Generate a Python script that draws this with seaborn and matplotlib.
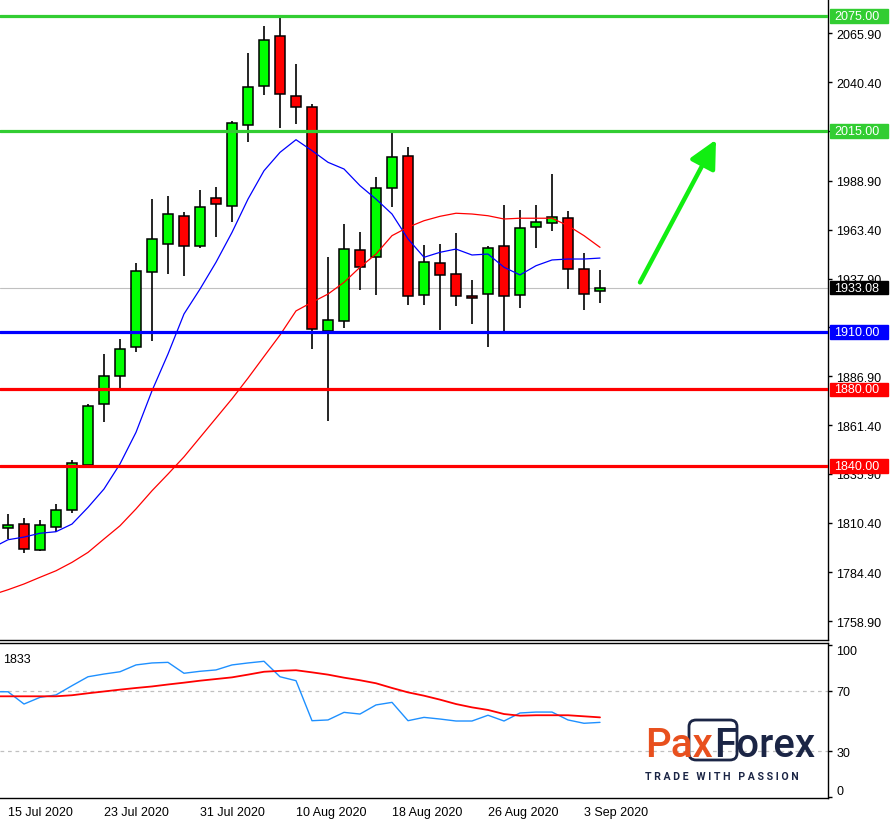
import matplotlib
matplotlib.use("Agg")
import matplotlib.pyplot as plt
import matplotlib.transforms as mtransforms
from matplotlib.patches import Rectangle, FancyBboxPatch
import seaborn as sns
import numpy as np
import pandas as pd

# daily XAUUSD candles, 15 Jul 2020 .. 4 Sep 2020
opens = [1807.8, 1809.6, 1796.0, 1808.3, 1816.9, 1840.7, 1872.2, 1886.9, 1902.0, 1941.2,
         1955.8, 1970.4, 1955.1, 1979.8, 1975.9, 2017.9, 2038.3, 2064.4, 2033.1, 2027.3,
         1910.5, 1915.6, 1952.7, 1949.0, 1985.0, 2001.7, 1929.2, 1945.9, 1940.1, 1928.8,
         1929.7, 1954.7, 1929.2, 1964.7, 1966.7, 1969.4, 1942.7, 1931.2]
highs = [1815.0, 1812.9, 1811.8, 1820.2, 1843.0, 1872.2, 1898.5, 1906.3, 1946.0, 1979.4,
         1981.0, 1972.5, 1984.1, 1985.7, 2020.0, 2055.7, 2069.8, 2074.6, 2049.9, 2028.9,
         1949.2, 1966.2, 1962.2, 1990.8, 2014.6, 2006.6, 1955.4, 1956.0, 1961.7, 1937.1,
         1955.1, 1976.3, 1973.7, 1976.3, 1992.5, 1973.0, 1951.2, 1942.4]
lows = [1801.9, 1794.7, 1795.5, 1805.7, 1815.6, 1840.0, 1863.1, 1880.7, 1899.4, 1905.4,
        1940.4, 1939.4, 1954.0, 1959.8, 1967.6, 2009.4, 2033.9, 2016.4, 2018.8, 1901.0,
        1863.7, 1912.2, 1932.1, 1929.5, 1975.4, 1924.2, 1924.2, 1911.2, 1923.7, 1914.3,
        1902.3, 1910.5, 1922.7, 1954.0, 1962.9, 1932.6, 1921.6, 1925.3]
closes = [1809.4, 1796.5, 1809.0, 1816.9, 1841.4, 1871.2, 1886.9, 1901.0, 1941.7, 1958.4,
          1971.5, 1954.7, 1975.1, 1976.7, 2019.0, 2037.8, 2062.3, 2034.1, 2027.3, 1911.4,
          1916.1, 1953.2, 1943.9, 1985.0, 2001.2, 1928.6, 1946.4, 1939.6, 1928.6, 1927.6,
          1953.9, 1928.6, 1964.1, 1967.3, 1969.9, 1942.7, 1929.7, 1933.08]

# moving averages, first value belongs to the bar before the window
ma_fast = [1797.2, 1801.5, 1802.9, 1804.9, 1805.7, 1809.7, 1818.4, 1828.0, 1841.1, 1857.6,
           1879.3, 1898.5, 1919.4, 1932.4, 1946.4, 1962.0, 1979.4, 1994.2, 2003.8, 2010.4,
           2004.7, 1998.6, 1995.1, 1986.4, 1979.4, 1971.6, 1958.6, 1949.0, 1951.6, 1953.3,
           1950.2, 1950.7, 1943.8, 1939.8, 1944.6, 1947.6, 1948.1, 1948.1, 1948.6]
ma_slow = [1772.7, 1775.4, 1778.4, 1781.9, 1785.3, 1789.7, 1794.9, 1801.9, 1808.8, 1817.6,
           1827.1, 1835.8, 1844.8, 1854.9, 1865.0, 1875.1, 1885.9, 1897.2, 1908.4, 1921.0,
           1925.5, 1929.8, 1935.9, 1943.8, 1950.7, 1960.3, 1964.7, 1968.1, 1970.4, 1972.0,
           1971.6, 1970.7, 1969.0, 1969.4, 1969.4, 1969.4, 1965.5, 1960.3, 1954.2]

# oscillator (lower window), same alignment as the moving averages
osc_main = [69.3, 69.3, 61.2, 65.6, 67.2, 73.3, 79.2, 81.0, 82.5, 87.0,
            88.3, 88.7, 81.5, 82.8, 83.7, 87.0, 88.3, 89.4, 79.2, 76.6,
            50.2, 50.7, 55.7, 54.6, 60.6, 62.3, 50.2, 52.4, 51.3, 50.0,
            50.0, 53.8, 50.0, 55.3, 55.9, 55.9, 50.7, 48.5, 49.1]
osc_signal = [66.3, 66.3, 66.3, 66.3, 66.3, 67.0, 68.3, 69.5, 70.7, 71.8,
              72.8, 74.1, 75.3, 76.6, 77.7, 78.8, 80.6, 82.5, 83.1, 83.5,
              82.1, 80.6, 78.6, 76.9, 74.9, 71.8, 68.9, 66.7, 64.1, 61.2,
              59.0, 57.3, 54.6, 53.5, 53.8, 53.8, 53.8, 53.1, 52.4]

date_labels = ["15 Jul 2020", "23 Jul 2020", "31 Jul 2020", "10 Aug 2020",
               "18 Aug 2020", "26 Aug 2020", "3 Sep 2020"]
date_label_bars = [0, 6, 12, 18, 24, 30, 36]
price_ticks = [2065.90, 2040.40, 2014.90, 1988.90, 1963.40, 1937.90, 1912.40,
               1886.90, 1861.40, 1835.90, 1810.40, 1784.40, 1758.90]
covered_ticks = [2014.90, 1912.40]   # hidden behind the price tags
levels = [2075.00, 2015.00, 1910.00, 1880.00, 1840.00]
level_colors = ["#32cd32", "#32cd32", "#0000ff", "#ff0000", "#ff0000"]
last_price = 1933.08
osc_ticks = [100, 70, 30, 0]
osc_levels = [70, 30]
arrow_from = (39.5, 1935.9)
arrow_to = (44.25, 2010.4)

sns.set_style("white")
plt.rcParams["font.family"] = ["Liberation Sans", "DejaVu Sans"]

df = pd.DataFrame({"open": opens, "high": highs, "low": lows, "close": closes})
df["bar"] = np.arange(len(df))
ma_bars = np.arange(-1, len(df))

W, H = 893, 820
fig = plt.figure(figsize=(W / 100, H / 100), dpi=100)
ax = fig.add_axes([0, 1 - 641 / H, 828 / W, 641 / H])
ax2 = fig.add_axes([0, 1 - 799 / H, 828 / W, (799 - 643.5) / H])

xlim = (-0.5, 51.25)
ylim = (1749.15, 2083.88)

# ---- main price window ----
ax.axhline(last_price, color="#c0c0c0", lw=0.8, zorder=1)
up = df["close"] >= df["open"]
ax.vlines(df["bar"], df["low"], df["high"], color="black", lw=1.2, zorder=2)
ax.bar(df["bar"], (df["close"] - df["open"]).abs().clip(lower=0.8),
       bottom=np.minimum(df["open"], df["close"]), width=0.58,
       color=np.where(up, "#00ff00", "#ff0000"), edgecolor="black",
       linewidth=1.1, zorder=3)
sns.lineplot(x=ma_bars, y=ma_fast, ax=ax, color="#0000ff", lw=0.9, zorder=4)
sns.lineplot(x=ma_bars, y=ma_slow, ax=ax, color="#ff0000", lw=0.9, zorder=4)
for lv, c in zip(levels, level_colors):
    ax.axhline(lv, color=c, lw=2.3, zorder=5)

ax.annotate("", xy=arrow_to, xytext=arrow_from,
            arrowprops=dict(arrowstyle="-|>,head_length=0.7,head_width=0.35",
                            color="#11ee11", lw=3.2, mutation_scale=24,
                            shrinkA=0, shrinkB=0, capstyle="round"), zorder=6)

ax.set_xlim(*xlim)
ax.set_ylim(*ylim)
ax.set_xticks([])
ax.yaxis.tick_right()
ax.set_yticks(price_ticks, ["" if t in covered_ticks else f"{t:.2f}" for t in price_ticks])
ax.tick_params(axis="y", length=3, width=1, pad=3, labelsize=9, colors="black")
for s in ["left", "top"]:
    ax.spines[s].set_visible(False)
for s in ["right", "bottom"]:
    ax.spines[s].set_color("black")
    ax.spines[s].set_linewidth(1)

# price tags on the scale
px_per_unit = 641 / (ylim[1] - ylim[0])
trans = mtransforms.blended_transform_factory(ax.transAxes, ax.transData)
tags = list(zip(levels, level_colors)) + [(last_price, "black")]
for price, c in tags:
    h = 6.6 / px_per_unit
    ax.add_patch(Rectangle((1 + 2 / 828, price - h), 58 / 828, 2 * h,
                           transform=trans, color=c, clip_on=False, zorder=7))
    ax.text(1 + 6 / 828, price, f"{price:.2f}", transform=trans, color="white",
            fontsize=9, va="center", ha="left", clip_on=False, zorder=8)

# ---- oscillator window ----
for lv in osc_levels:
    ax2.axhline(lv, color="#c0c0c0", lw=0.9, ls=(0, (3, 3)), zorder=1)
sns.lineplot(x=ma_bars, y=osc_signal, ax=ax2, color="#ff0000", lw=1.3, zorder=3)
sns.lineplot(x=ma_bars, y=osc_main, ax=ax2, color="#1e90ff", lw=1.0, zorder=2)
ax2.set_xlim(*xlim)
ax2.set_ylim(-0.8, 101.8)
ax2.yaxis.tick_right()
ax2.set_yticks(osc_ticks, [str(t) for t in osc_ticks])
ax2.tick_params(axis="y", length=3, width=1, pad=3, labelsize=9, colors="black")
for lbl in ax2.yaxis.get_majorticklabels():
    if lbl.get_text() == "100":
        lbl.set_va("top")
    elif lbl.get_text() == "0":
        lbl.set_va("bottom")
ax2.set_xticks(date_label_bars, date_labels)
for lbl in ax2.get_xticklabels():
    lbl.set_ha("left")
ax2.tick_params(axis="x", length=4, width=1, pad=2, labelsize=9, colors="black")
ax2.spines["left"].set_visible(False)
for s in ["right", "bottom", "top"]:
    ax2.spines[s].set_color("black")
    ax2.spines[s].set_linewidth(1)
ax2.text(0.004, 0.93, "1833", transform=ax2.transAxes, fontsize=9,
         va="top", ha="left", color="black")

# ---- PaxForex logo ----
navy = "#1b2545"
orange = "#e8501e"
fig.text(645 / W, 1 - 757 / H, "Pax", color=orange, fontsize=29,
         family="Roboto", weight="medium", va="baseline", ha="left")
fig.text(714 / W, 1 - 757 / H, "Forex", color=navy, fontsize=29,
         family="Roboto", weight="medium", va="baseline", ha="left")
fig.add_artist(FancyBboxPatch((689 / W, 1 - 761 / H), 48 / W, 40 / H,
                              boxstyle="round,pad=0,rounding_size=0.008",
                              transform=fig.transFigure, fill=False,
                              edgecolor=navy, lw=2))
fig.text(645 / W, 1 - 777 / H, " ".join("TRADE WITH PASSION"), color=navy,
         fontsize=7.6, family="Roboto", weight="bold", va="center", ha="left")

fig.savefig("out.png", dpi=100)
